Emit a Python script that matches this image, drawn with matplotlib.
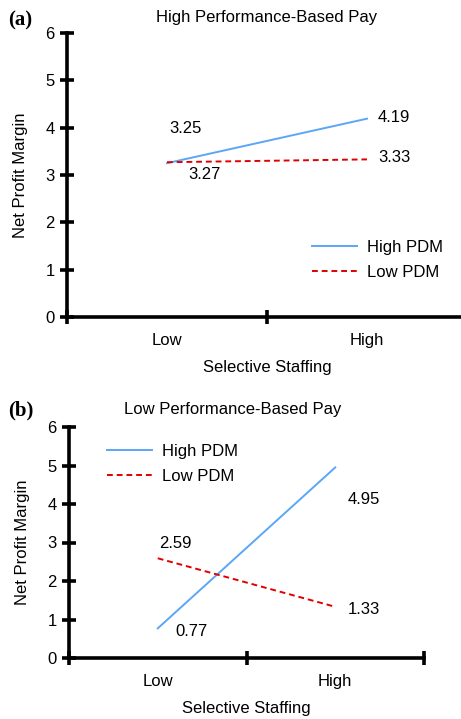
import matplotlib.pyplot as plt

plt.rcParams['font.family'] = ['Liberation Sans', 'DejaVu Sans']

# data
levels = ['Low', 'High']
xpos = [0.5, 1.5]
a_high_pdm = [3.25, 4.19]
a_low_pdm = [3.27, 3.33]
b_high_pdm = [0.77, 4.95]
b_low_pdm = [2.59, 1.33]

BLUE = '#5aa6f7'
RED = '#e00000'
FS = 12

fig = plt.figure(figsize=(4.61, 7.19), dpi=100)
ax_a = fig.add_axes([67 / 461, (719 - 317) / 719, 400 / 461, 284 / 719])
ax_b = fig.add_axes([69 / 461, (719 - 658) / 719, 355 / 461, 231 / 719])


def style(ax, title, tx, ty):
    ax.set_xlim(0, 2)
    ax.set_ylim(0, 6)
    for s in ['top', 'right']:
        ax.spines[s].set_visible(False)
    for s in ['left', 'bottom']:
        ax.spines[s].set_linewidth(2.6)
        ax.spines[s].set_clip_on(False)
    ax.set_yticks(range(7))
    ax.set_xticks([0, 1, 2])
    ax.set_xticklabels([])
    ax.set_xticks(xpos, minor=True)
    ax.set_xticklabels(levels, minor=True)
    ax.tick_params(axis='both', which='major', direction='inout', length=10,
                   width=2.6, labelsize=FS, pad=4)
    ax.tick_params(axis='x', which='minor', length=0, labelsize=FS, pad=11.5)
    ax.set_xlabel('Selective Staffing', fontsize=FS, labelpad=8.5)
    ax.set_ylabel('Net Profit Margin', fontsize=FS, labelpad=12)
    ax.text(tx, ty, title, transform=ax.transAxes, ha='center', va='center',
            fontsize=FS)


def label(ax, val, x, dx, dy, ha='center'):
    ax.annotate('%.2f' % val, (x, val), xytext=(dx, dy), textcoords='offset points',
                ha=ha, va='center', fontsize=FS)


# panel (a)
ax_a.plot(xpos, a_high_pdm, color=BLUE, lw=1.4, label='High PDM')
ax_a.plot(xpos, a_low_pdm, color=RED, lw=1.4, ls=(0, (3, 2)), label='Low PDM')
style(ax_a, 'High Performance-Based Pay', 0.5, 1.053)
label(ax_a, a_high_pdm[0], xpos[0], 13, 25)
label(ax_a, a_low_pdm[0], xpos[0], 27, -9)
label(ax_a, a_high_pdm[1], xpos[1], 8, 1, 'left')
label(ax_a, a_low_pdm[1], xpos[1], 8, 1, 'left')
ax_a.legend(loc='upper left', bbox_to_anchor=(0.575, 0.324), frameon=False,
            fontsize=FS, handlelength=2.7, labelspacing=0.6, handletextpad=0.6)

# panel (b)
ax_b.plot(xpos, b_high_pdm, color=BLUE, lw=1.4, label='High PDM')
ax_b.plot(xpos, b_low_pdm, color=RED, lw=1.4, ls=(0, (3, 2)), label='Low PDM')
style(ax_b, 'Low Performance-Based Pay', 0.46, 1.074)
label(ax_b, b_low_pdm[0], xpos[0], 13, 11)
label(ax_b, b_high_pdm[0], xpos[0], 24, -2)
label(ax_b, b_high_pdm[1], xpos[1], 9, -23, 'left')
label(ax_b, b_low_pdm[1], xpos[1], 9, -2, 'left')
ax_b.legend(loc='upper left', bbox_to_anchor=(0.065, 0.99), frameon=False,
            fontsize=FS, handlelength=2.7, labelspacing=0.6, handletextpad=0.6)

fig.text(8 / 461, 1 - 20 / 719, '(a)', fontsize=15, fontweight='bold',
         family='Liberation Serif', va='center', ha='left')
fig.text(8 / 461, 1 - 410 / 719, '(b)', fontsize=15, fontweight='bold',
         family='Liberation Serif', va='center', ha='left')

fig.savefig('out.png', dpi=100)
